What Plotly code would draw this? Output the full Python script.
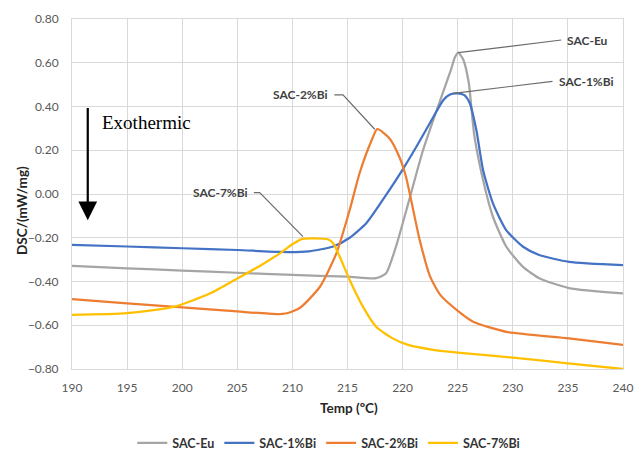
import plotly.graph_objects as go

# DSC heating curves, temperature in ºC and heat flow in mW/mg
eu_temp = [190, 195, 200, 205, 210, 215, 217.6, 218.5, 219.4, 220.6, 221.85, 223.1,
           224.4, 224.75, 225.05, 225.5, 226.0, 226.5, 227.3, 228.2, 229.4,
           230.9, 232.4, 235.1, 240]
eu_dsc = [-0.329, -0.34, -0.35, -0.36, -0.37, -0.378, -0.385, -0.362, -0.24, -0.027,
          0.2, 0.384, 0.57, 0.625, 0.646, 0.615, 0.51, 0.27, 0.064, -0.104,
          -0.24, -0.332, -0.385, -0.43, -0.454]

bi1_temp = [190, 195, 200, 205, 209, 211.5, 213.7, 215.2, 216.7, 218.2, 219.7, 221.25,
            222.8, 223.7, 224.3, 225.0, 225.6, 226.1, 226.7, 227.3, 228.2, 229.4,
            230.9, 232.4, 235.1, 240]
bi1_dsc = [-0.233, -0.24, -0.248, -0.256, -0.265, -0.262, -0.24, -0.20, -0.134, -0.027,
           0.087, 0.216, 0.353, 0.43, 0.455, 0.46, 0.452, 0.415, 0.29, 0.11, -0.043,
           -0.165, -0.24, -0.279, -0.31, -0.325]

bi2_temp = [190, 195, 200, 205, 208.6, 209.5, 210.7, 212.5, 214.0, 215.2, 216.1, 217.2,
            217.7, 218.8, 219.7, 220.3, 220.9, 221.55, 222.5, 223.4, 224.9, 226.4,
            229.4, 235.1, 240]
bi2_dsc = [-0.48, -0.50, -0.518, -0.537, -0.549, -0.545, -0.52, -0.424, -0.27, -0.073,
           0.096, 0.247, 0.297, 0.255, 0.17, 0.08, -0.058, -0.21, -0.378, -0.46, -0.53,
           -0.584, -0.63, -0.66, -0.69]

bi7_temp = [190, 195, 199.3, 202.5, 205, 207, 208.9, 210, 210.9, 213.2, 213.7, 214.3,
            215.2, 216.4, 217.6, 219.1, 220.5, 222.5, 225, 230, 235, 240]
bi7_dsc = [-0.553, -0.545, -0.515, -0.455, -0.386, -0.33, -0.27, -0.23, -0.205, -0.207,
           -0.225, -0.287, -0.393, -0.515, -0.607, -0.66, -0.69, -0.71, -0.725, -0.748,
           -0.774, -0.80]

series_names = ["SAC-Eu", "SAC-1%Bi", "SAC-2%Bi", "SAC-7%Bi"]
series_colors = ["#a5a5a5", "#4472c4", "#ed7d31", "#ffc000"]
series_data = [(eu_temp, eu_dsc), (bi1_temp, bi1_dsc), (bi2_temp, bi2_dsc), (bi7_temp, bi7_dsc)]

x_ticks = [190, 195, 200, 205, 210, 215, 220, 225, 230, 235, 240]
y_ticks = [-0.8, -0.6, -0.4, -0.2, 0.0, 0.2, 0.4, 0.6, 0.8]

FONT = "Lato, 'Open Sans', sans-serif"
GRID = "#d9d9d9"
LEADER = "#6b6b6b"

fig = go.Figure()
for name, color, (tx, ty) in zip(series_names, series_colors, series_data):
    fig.add_trace(go.Scatter(
        x=tx, y=ty, name=f"<b>{name}</b>", mode="lines",
        line=dict(color=color, width=2.25, shape="spline", smoothing=0.6),
    ))

# leader lines from the data labels to the peaks
leaders = [
    [(225.05, 0.646), (234.4, 0.704)],
    [(224.6, 0.46), (233.6, 0.515)],
    [(217.47, 0.296), (214.59, 0.453), (213.8, 0.453)],
    [(210.96, -0.195), (207.03, 0.006), (206.5, 0.006)],
]
for pts in leaders:
    path = "M " + " L ".join(f"{px},{py}" for px, py in pts)
    fig.add_shape(type="path", path=path, xref="x", yref="y",
                  line=dict(color=LEADER, width=1.2))

labels = [
    ("SAC-Eu", 234.6, 0.704),
    ("SAC-1%Bi", 233.8, 0.515),
    ("SAC-2%Bi", 213.6, 0.453),
    ("SAC-7%Bi", 206.3, 0.006),
]
for text, lx, ly in labels:
    right_side = lx > 230
    fig.add_annotation(x=lx, y=ly, text=f"<b>{text}</b>", showarrow=False,
                       xanchor="left" if right_side else "right", yanchor="middle",
                       font=dict(family=FONT, size=12, color="#404040"),
                       xshift=2 if right_side else -2)

# exothermic direction arrow
fig.add_annotation(x=191.43, y=-0.12, ax=191.43, ay=0.40, xref="x", yref="y",
                   axref="x", ayref="y", showarrow=True, arrowhead=2, arrowsize=1.7,
                   arrowwidth=2.2, arrowcolor="black", text="")
fig.add_annotation(x=192.5, y=0.325, text="Exothermic", showarrow=False,
                   xanchor="left", yanchor="middle",
                   font=dict(family="'Liberation Serif', 'Times New Roman', serif", size=19, color="black"))

# axis titles
fig.add_annotation(x=-0.091, y=0.454, xref="paper", yref="paper", text="<b>DSC/(mW/mg)</b>",
                   textangle=-90, showarrow=False, xanchor="center", yanchor="middle",
                   font=dict(family=FONT, size=13.5, color="#262626"))
fig.add_annotation(x=0.502, y=-0.111, xref="paper", yref="paper", text="<b>Temp (ºC)</b>",
                   showarrow=False, xanchor="center", yanchor="middle",
                   font=dict(family=FONT, size=13.5, color="#262626"))

fig.update_layout(
    width=643, height=450,
    margin=dict(l=72, r=20, t=19, b=81, autoexpand=False),
    paper_bgcolor="white", plot_bgcolor="white",
    font=dict(family=FONT, size=12, color="#595959"),
    showlegend=True,
    legend=dict(orientation="h", x=0.466, y=-0.212, xanchor="center", yanchor="middle",
                font=dict(family=FONT, size=12.5, color="#333333"), itemwidth=30,
                bgcolor="rgba(0,0,0,0)"),
    xaxis=dict(range=[190, 240], tickvals=x_ticks, showgrid=True, gridcolor=GRID, gridwidth=1,
               zeroline=False, showline=True, linecolor=GRID, mirror=True,
               ticks="", ticklabelstandoff=8, tickfont=dict(size=12, color="#595959")),
    yaxis=dict(range=[-0.8, 0.8], tickvals=y_ticks, tickformat=".2f", showgrid=True,
               gridcolor=GRID, gridwidth=1, zeroline=False, showline=True, linecolor=GRID,
               mirror=True, ticks="", ticklabelstandoff=10, tickfont=dict(size=12, color="#595959")),
)

fig.write_html("out.html")
